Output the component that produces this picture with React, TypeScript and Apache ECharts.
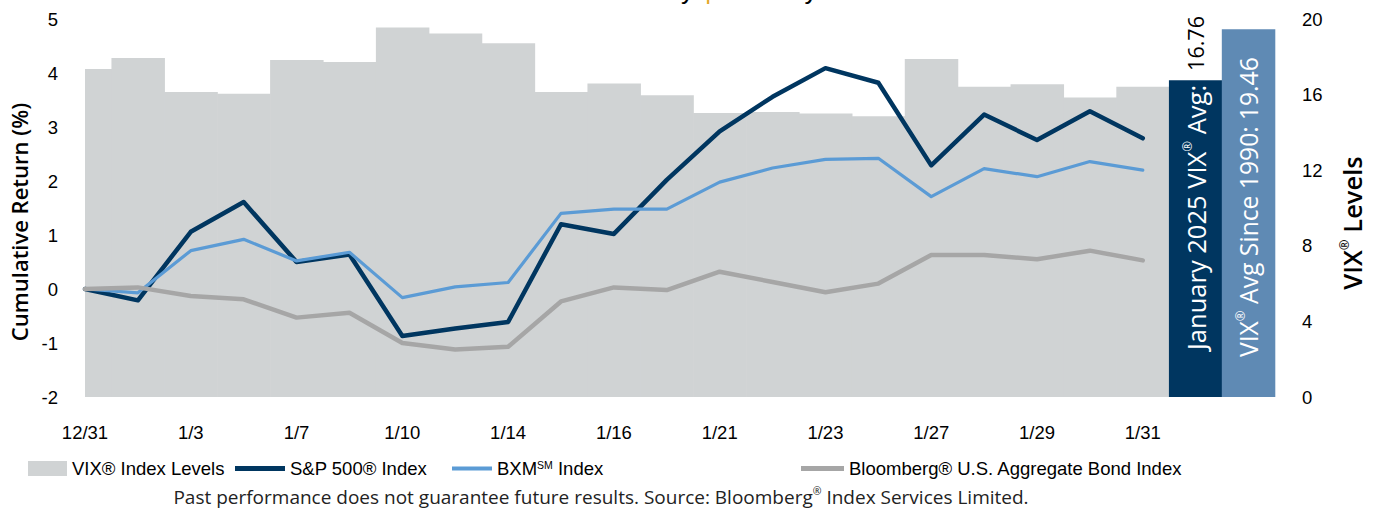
import React, { useEffect, useRef } from 'react';
import * as echarts from 'echarts';

// ---------- data ----------
const dates = ['12/31', '1/2', '1/3', '1/6', '1/7', '1/8', '1/10', '1/13', '1/14', '1/15', '1/16', '1/17', '1/21', '1/22', '1/23', '1/24', '1/27', '1/28', '1/29', '1/30', '1/31'];
const vixLevels = [17.35, 17.94, 16.14, 16.04, 17.83, 17.72, 19.55, 19.23, 18.72, 16.14, 16.59, 15.97, 15.03, 15.08, 15.0, 14.85, 17.88, 16.41, 16.55, 15.85, 16.41];
const sp500 = [0, -0.21, 1.06, 1.61, 0.5, 0.64, -0.87, -0.73, -0.61, 1.2, 1.02, 2.02, 2.92, 3.56, 4.09, 3.82, 2.29, 3.23, 2.76, 3.29, 2.79];
const bxm = [0, -0.07, 0.71, 0.92, 0.52, 0.68, -0.16, 0.04, 0.12, 1.4, 1.48, 1.48, 1.98, 2.24, 2.4, 2.42, 1.71, 2.23, 2.08, 2.36, 2.2];
const bond = [0, 0.03, -0.13, -0.19, -0.53, -0.44, -1.0, -1.12, -1.07, -0.23, 0.03, -0.02, 0.32, 0.13, -0.06, 0.1, 0.63, 0.63, 0.55, 0.71, 0.53];
const avgNames = ['January 2025 VIX® Avg:', 'VIX® Avg Since 1990:'];
const avgValues = [16.76, 19.46];
const seriesNames = ['VIX® Index Levels', 'S&P 500® Index', 'BXM℠ Index', 'Bloomberg® U.S. Aggregate Bond Index'];
const leftTicks = { min: -2, max: 5, interval: 1 };
const rightTicks = { min: 0, max: 20, interval: 4 };
const titleParts = ['Volatility', '|', 'January 2025'];
const footnote = 'Past performance does not guarantee future results. Source: Bloomberg® Index Services Limited.';

// ---------- styles ----------
const W = 1379;
const H = 510;
const GRID = { left: 85, right: 104, top: 19, bottom: 113 };
const X_MAX = 22.5;
const AX = '"Liberation Sans", Arial, sans-serif';
const SANS = '"Open Sans", "Noto Sans", sans-serif';
const AX_SIZE = 18.5;
const COL = {
  vix: '#D0D3D4',
  sp: '#003660',
  bxm: '#5B9BD5',
  bond: '#A6A6A6',
  avgJan: '#003660',
  avgAll: '#5F8AB4',
  gold: '#E4A72A',
  text: '#000000',
};

function avgLabelText(name: string, value: number) {
  const [pre, post] = name.split('®');
  return `{t|${pre}}{s|®}{t|${post}}{v|${value.toFixed(2)}}`;
}

function avgRich(valueColor: string, size: number, valueSize: number, gap: number) {
  return {
    t: { color: '#fff', fontSize: size, fontFamily: SANS, lineHeight: 30 },
    s: { color: '#fff', fontSize: 13, fontFamily: SANS, lineHeight: 16, verticalAlign: 'top' },
    v: { color: valueColor, fontSize: valueSize, fontFamily: SANS, lineHeight: 30, padding: [0, 0, 0, gap] },
  };
}

export default function App() {
  const ref = useRef<HTMLDivElement>(null);

  useEffect(() => {
    document.body.style.margin = '0';
    if (!ref.current) return;
    const chart = echarts.init(ref.current, undefined, { renderer: 'svg' });
    const plotW = W - GRID.left - GRID.right;
    const unit = plotW / X_MAX;

    const avgColors = [COL.avgJan, COL.avgAll];
    const valueColors = ['#000', '#fff'];
    const distances = [47, 40];
    const labelSizes = [25.5, 24.7];
    const valueSizes = [21.5, 24.7];
    const gaps = [14, 6];
    const avgData = avgValues.map((v, k) => ({
      value: [dates.length + k, v],
      itemStyle: { color: avgColors[k] },
      label: {
        show: true,
        position: 'insideBottom',
        rotate: 90,
        align: 'left',
        verticalAlign: 'middle',
        distance: distances[k],
        formatter: avgLabelText(avgNames[k], v),
        rich: avgRich(valueColors[k], labelSizes[k], valueSizes[k], gaps[k]),
      },
    }));

    const lineSeries = (name: string, data: number[], color: string, width: number) => ({
      type: 'line',
      name,
      data: data.map((v, i) => [i, v]),
      yAxisIndex: 0,
      symbol: 'none',
      color,
      itemStyle: { color },
      lineStyle: { color, width, cap: 'round', join: 'round' },
      z: 3,
    });

    const legendRich = {
      a: { fontSize: AX_SIZE, fontFamily: AX, color: COL.text },
      s: { fontSize: 10.5, fontFamily: AX, color: COL.text, verticalAlign: 'top', lineHeight: 11 },
    };
    const mkLegend = (name: string, left: number, w: number, h: number) => ({
      data: [name],
      left,
      top: 459,
      padding: 0,
      icon: 'rect',
      itemWidth: w,
      itemHeight: h,
      selectedMode: false,
      textStyle: { fontSize: AX_SIZE, fontFamily: AX, color: COL.text, rich: legendRich },
      formatter: (n: string) =>
        n.includes('℠') ? `{a|${n.split('℠')[0]}}{s|SM}{a|${n.split('℠')[1]}}` : `{a|${n}}`,
    });

    const option: any = {
      animation: false,
      backgroundColor: '#fff',
      grid: { ...GRID, containLabel: false },
      xAxis: {
        type: 'value',
        min: 0,
        max: X_MAX,
        interval: 2,
        axisLine: { show: false },
        axisTick: { show: false },
        splitLine: { show: false },
        axisLabel: {
          margin: 26,
          fontSize: AX_SIZE,
          fontFamily: AX,
          color: COL.text,
          showMaxLabel: false,
          formatter: (v: number) => (Number.isInteger(v) && v < dates.length ? dates[v] : ''),
        },
      },
      yAxis: [
        {
          type: 'value',
          position: 'left',
          ...leftTicks,
          axisLine: { show: false },
          axisTick: { show: false },
          splitLine: { show: false },
          axisLabel: { margin: 27, fontSize: AX_SIZE, fontFamily: AX, color: COL.text },
        },
        {
          type: 'value',
          position: 'right',
          ...rightTicks,
          axisLine: { show: false },
          axisTick: { show: false },
          splitLine: { show: false },
          axisLabel: { margin: 27, fontSize: AX_SIZE, fontFamily: AX, color: COL.text },
        },
      ],
      legend: [
        mkLegend(seriesNames[0], 28, 39, 15),
        mkLegend(seriesNames[1], 235, 50, 5),
        mkLegend(seriesNames[2], 452, 40, 4),
        mkLegend(seriesNames[3], 801, 43, 5),
      ],
      series: [
        {
          type: 'custom',
          name: seriesNames[0],
          yAxisIndex: 1,
          color: COL.vix,
          itemStyle: { color: COL.vix },
          encode: { x: 0, y: 1 },
          data: vixLevels.map((v, i) => [i, v]),
          z: 1,
          renderItem: (params: any, api: any) => {
            const i = api.value(0);
            const v = api.value(1);
            const top = api.coord([i, v]);
            const base = api.coord([i, 0]);
            const w = api.size([1, 0])[0];
            const cs = params.coordSys;
            const shape = echarts.graphic.clipRectByRect(
              { x: top[0] - w / 2, y: top[1], width: w + 0.6, height: base[1] - top[1] },
              { x: cs.x, y: cs.y, width: cs.width, height: cs.height }
            );
            if (!shape) return null;
            return { type: 'rect', shape, style: { fill: COL.vix } };
          },
        },
        {
          type: 'bar',
          name: 'VIX® Averages',
          yAxisIndex: 1,
          barWidth: unit + 0.6,
          data: avgData,
          z: 1,
        },
        lineSeries(seriesNames[1], sp500, COL.sp, 4.5),
        lineSeries(seriesNames[2], bxm, COL.bxm, 3.2),
        lineSeries(seriesNames[3], bond, COL.bond, 4.5),
      ],
      graphic: [
        {
          type: 'text',
          x: 19,
          y: 222,
          rotation: Math.PI / 2,
          style: {
            text: 'Cumulative Return (%)',
            fontSize: 22,
            fontWeight: 600,
            fontFamily: SANS,
            fill: COL.text,
            align: 'center',
            verticalAlign: 'middle',
          },
        },
        {
          type: 'text',
          x: 1352,
          y: 223,
          rotation: Math.PI / 2,
          style: {
            text: '{a|VIX}{s|®}{a| Levels}',
            align: 'center',
            verticalAlign: 'middle',
            rich: {
              a: { fontSize: 25.5, fontWeight: 600, fontFamily: SANS, fill: COL.text, lineHeight: 30 },
              s: { fontSize: 13, fontWeight: 600, fontFamily: SANS, fill: COL.text, lineHeight: 15, verticalAlign: 'top' },
            },
          },
        },
        {
          type: 'text',
          x: 601,
          y: 497,
          style: {
            text: '{a|' + footnote.split('®')[0] + '}{s|®}{a|' + footnote.split('®')[1] + '}',
            align: 'center',
            verticalAlign: 'middle',
            rich: {
              a: { fontSize: 19, fontFamily: SANS, fill: '#222', lineHeight: 23 },
              s: { fontSize: 10.5, fontFamily: SANS, fill: '#222', lineHeight: 12, verticalAlign: 'top' },
            },
          },
        },
        {
          type: 'text',
          x: 694,
          y: -10,
          style: { text: titleParts[0], fontSize: 26, fontFamily: AX, fill: COL.text, align: 'right', verticalAlign: 'middle' },
        },
        {
          type: 'text',
          x: 708,
          y: -10,
          style: { text: titleParts[1], fontSize: 26, fontFamily: AX, fill: COL.gold, align: 'center', verticalAlign: 'middle' },
        },
        {
          type: 'text',
          x: 725,
          y: -10,
          style: { text: titleParts[2], fontSize: 26, fontFamily: AX, fill: COL.text, align: 'left', verticalAlign: 'middle' },
        },
      ],
    };

    chart.setOption(option);
    return () => chart.dispose();
  }, []);

  return <div ref={ref} style={{ width: W, height: H }} />;
}
